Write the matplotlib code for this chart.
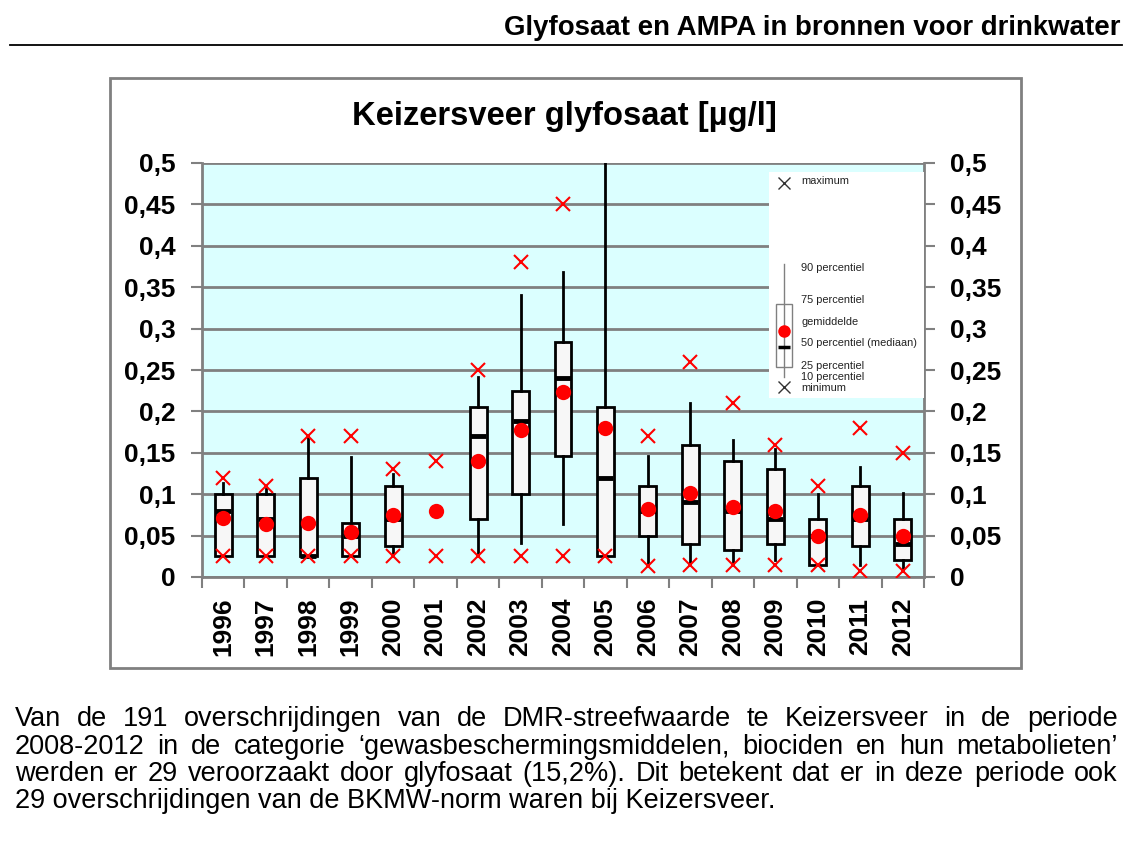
import numpy as np
import matplotlib
matplotlib.use('Agg')
import matplotlib.pyplot as plt
import matplotlib.ticker as ticker
from matplotlib.patches import Rectangle
from matplotlib.lines import Line2D

plt.rcParams['font.family'] = ['Liberation Sans', 'DejaVu Sans']

# ----------------- DADOS -----------------
jaren = [str(j) for j in range(1996, 2013)]
nan = np.nan
minimum = [0.025, 0.025, 0.025, 0.025, 0.025, 0.025, 0.025, 0.025, 0.025, 0.025,
           0.013, 0.015, 0.015, 0.015, 0.015, 0.007, 0.007]
p10 = [0.025, 0.025, 0.025, 0.025, 0.029, nan, 0.025, 0.0415, 0.064, 0.025,
       0.015, 0.015, 0.015, 0.02, 0.014, 0.015, 0.007]
p25 = [0.025, 0.025, 0.025, 0.025, 0.037, nan, 0.07, 0.10, 0.1465, 0.025,
       0.05, 0.04, 0.033, 0.04, 0.014, 0.037, 0.02]
p50 = [0.08, 0.07, 0.025, 0.05, 0.07, nan, 0.17, 0.189, 0.24, 0.12,
       0.08, 0.09, 0.08, 0.07, 0.05, 0.07, 0.04]
gemiddelde = [0.071, 0.064, 0.065, 0.054, 0.075, 0.08, 0.14, 0.178, 0.2235, 0.18,
              0.082, 0.102, 0.085, 0.08, 0.05, 0.075, 0.049]
p75 = [0.10, 0.10, 0.12, 0.065, 0.11, nan, 0.205, 0.225, 0.284, 0.205,
       0.11, 0.16, 0.14, 0.13, 0.07, 0.11, 0.07]
p90 = [0.113, 0.106, 0.17, 0.145, 0.125, nan, 0.241, 0.34, 0.368, 0.55,
       0.146, 0.21, 0.165, 0.155, 0.10, 0.133, 0.101]
maximum = [0.12, 0.11, 0.17, 0.17, 0.13, 0.14, 0.25, 0.38, 0.45, nan,
           0.17, 0.26, 0.21, 0.16, 0.11, 0.18, 0.15]

y_ticks = [0, 0.05, 0.1, 0.15, 0.2, 0.25, 0.3, 0.35, 0.4, 0.45, 0.5]

kop = 'Glyfosaat en AMPA in bronnen voor drinkwater'
titel = 'Keizersveer glyfosaat [µg/l]'
tekst_regels = [
    'Van de 191 overschrijdingen van de DMR-streefwaarde te Keizersveer in de periode',
    '2008-2012 in de categorie ‘gewasbeschermingsmiddelen, biociden en hun metabolieten’',
    'werden er 29 veroorzaakt door glyfosaat (15,2%). Dit betekent dat er in deze periode ook',
    '29 overschrijdingen van de BKMW-norm waren bij Keizersveer.',
]

W, H = 1134, 843
fig = plt.figure(figsize=(W / 100, H / 100), dpi=100)

def fx(px):
    return px / W

def fy(py):
    return 1 - py / H

# --- kop en lijn ---
fig.text(fx(1120), fy(28), kop, ha='right', va='center', fontsize=19.9, fontweight='bold')
fig.add_artist(Line2D([fx(10), fx(1122)], [fy(45), fy(45)], color='black', lw=1.3))

# --- kader van de grafiek ---
fig.add_artist(Rectangle((fx(110), fy(668)), fx(1021) - fx(110), fy(78) - fy(668),
                         transform=fig.transFigure, fill=False, edgecolor='#808080', lw=2))
fig.text(fx(564), fy(117), titel, ha='center', va='center', fontsize=23.6, fontweight='bold')

# --- as ---
ax = fig.add_axes([fx(202), fy(577), fx(924) - fx(202), fy(163) - fy(577)])
ax.set_facecolor('#DBFFFF')
x = np.arange(len(jaren))

stats = []
pos = []
for i in range(len(jaren)):
    if np.isnan(p25[i]):
        continue
    stats.append(dict(med=p50[i], q1=p25[i], q3=p75[i], whislo=p10[i], whishi=p90[i],
                      fliers=[]))
    pos.append(x[i])

ax.bxp(stats, positions=pos, widths=0.4, patch_artist=True, showcaps=False,
       showfliers=False,
       boxprops=dict(facecolor='#F7F7F7', edgecolor='black', linewidth=2),
       whiskerprops=dict(color='black', linewidth=2),
       medianprops=dict(linewidth=0), zorder=3)
ax.plot(x, p50, linestyle='none', marker='_', markersize=11, markeredgewidth=3.5,
        color='black', zorder=4)
ax.plot(x, gemiddelde, linestyle='none', marker='o', markersize=11, color='#FF0000',
        markeredgewidth=0, zorder=5)
ax.plot(x, maximum, linestyle='none', marker='x', markersize=10, markeredgewidth=1.5,
        color='#FF0000', zorder=6)
ax.plot(x, minimum, linestyle='none', marker='x', markersize=10, markeredgewidth=1.5,
        color='#FF0000', zorder=6)

ax.set_xlim(-0.5, len(jaren) - 0.5)
ax.set_ylim(0, 0.5)
ax.set_yticks(y_ticks)
ax.yaxis.set_major_formatter(ticker.FuncFormatter(lambda v, p: f'{v:g}'.replace('.', ',')))
ax.grid(axis='y', color='#808080', linewidth=2)
ax.set_axisbelow(True)
ax.tick_params(axis='y', which='major', left=True, right=True, labelleft=True,
               labelright=True, direction='out', length=8, width=1.5, color='#808080',
               labelsize=19, pad=11)
for t in ax.yaxis.get_major_ticks():
    t.label1.set_fontweight('bold')
    t.label2.set_fontweight('bold')

ax.set_xticks(x)
ax.set_xticklabels(jaren, rotation=90, fontsize=19, fontweight='bold')
ax.set_xticks(np.arange(-0.5, len(jaren)), minor=True)
ax.tick_params(axis='x', which='major', length=0, pad=15)
ax.tick_params(axis='x', which='minor', length=8, width=1.5, color='#808080', direction='out')
for s in ax.spines.values():
    s.set_color('#808080')
    s.set_linewidth(2)
ax.spines['top'].set_visible(False)

# --- legenda ---
lg = fig.add_axes([fx(769), fy(398), fx(924) - fx(769), fy(172) - fy(398)])
lg.set_xlim(0, 155)
lg.set_ylim(226, 0)
lg.axis('off')
lg.add_patch(Rectangle((0, 0), 155, 226, facecolor='white', edgecolor='none'))
lg.plot([15, 15], [92, 205], color='#808080', lw=1)
lg.add_patch(Rectangle((7, 132), 16, 63, facecolor='white', edgecolor='#808080', lw=1))
lg.plot([15], [159], marker='o', markersize=9, color='#FF0000', markeredgewidth=0)
lg.plot([15], [175], marker='_', markersize=8, markeredgewidth=2.5, color='black')
lg.plot([15, 15], [11, 215], linestyle='none', marker='x', markersize=8,
        markeredgewidth=1, color='#333333')
leg_items = [('maximum', 9), ('90 percentiel', 96), ('75 percentiel', 128),
             ('gemiddelde', 150), ('50 percentiel (mediaan)', 171), ('25 percentiel', 194),
             ('10 percentiel', 205), ('minimum', 216)]
for txt, yy in leg_items:
    lg.text(32, yy, txt, fontsize=7.9, va='center', ha='left', color='#222222')

# --- tekst onderaan (uitgevuld) ---
fig.canvas.draw()
renderer = fig.canvas.get_renderer()
links, rechts = 15, 1118
for n, regel in enumerate(tekst_regels):
    yy = fy(719 + n * 27.5)
    woorden = regel.split(' ')
    if n == len(tekst_regels) - 1:
        fig.text(fx(links), yy, regel, fontsize=19.5, va='center', ha='left')
        continue
    objs = [fig.text(0, yy, w, fontsize=19.5, va='center', ha='left') for w in woorden]
    breedtes = [o.get_window_extent(renderer).width for o in objs]
    tussen = (rechts - links - sum(breedtes)) / (len(woorden) - 1)
    cx = links
    for o, b in zip(objs, breedtes):
        o.set_x(fx(cx))
        cx += b + tussen

fig.savefig('out.png', dpi=100)
